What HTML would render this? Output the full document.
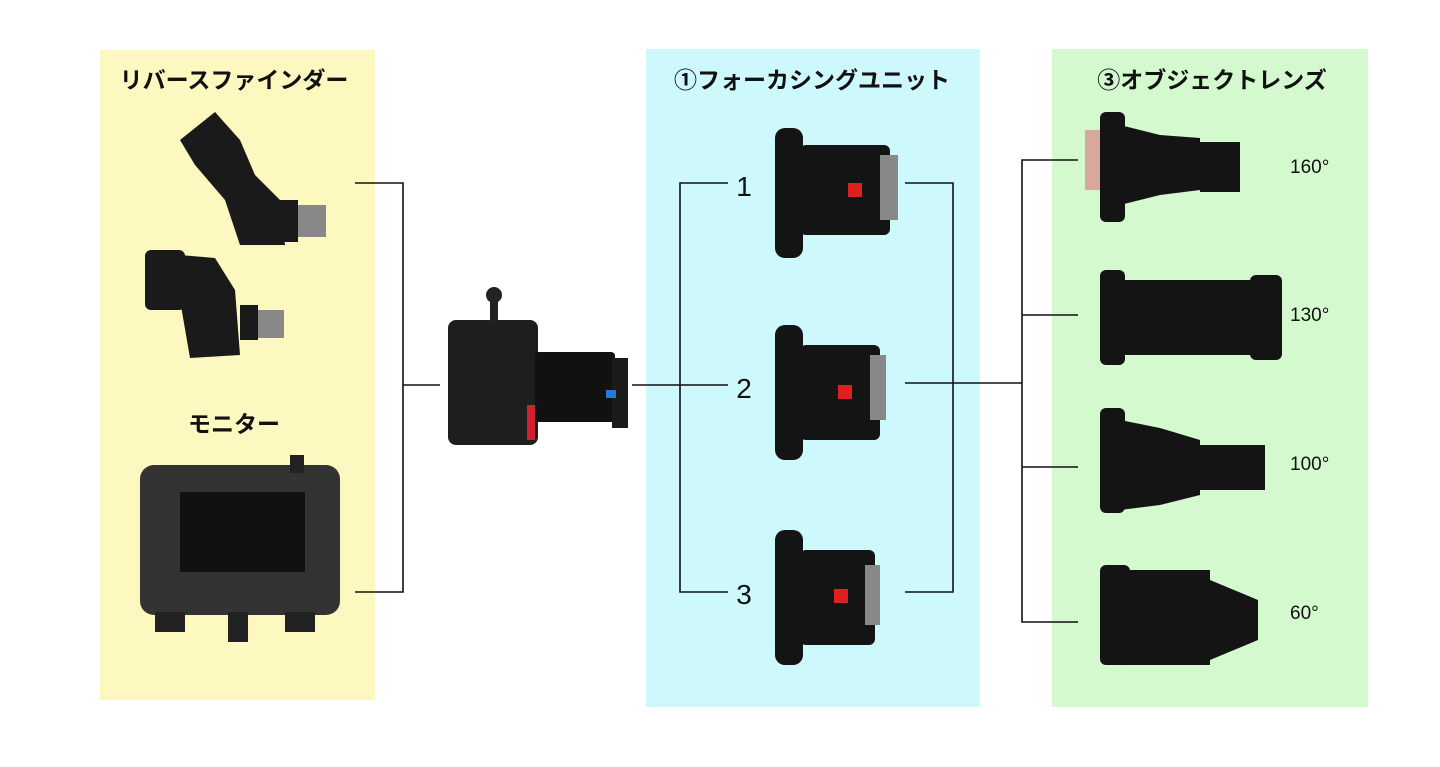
<!DOCTYPE html>
<html><head><meta charset="utf-8"><style>
body{margin:0;background:#fff;width:1440px;height:762px;overflow:hidden;font-family:"Liberation Sans","Noto Sans CJK JP",sans-serif}
</style></head><body>
<svg width="1440" height="762" viewBox="0 0 1440 762" xmlns="http://www.w3.org/2000/svg">
<rect x="100" y="50" width="275" height="650" fill="#fdf8bf"/>
<rect x="646" y="49" width="334" height="658" fill="#cdf8fc"/>
<rect x="1052" y="49" width="316" height="658" fill="#d4f9cf"/>
<g font-family="Noto Sans CJK JP, sans-serif" font-weight="bold" font-size="23" fill="#111">
<text x="234" y="88" text-anchor="middle">リバースファインダー</text>
<text x="234" y="432" text-anchor="middle">モニター</text>
<text x="812" y="88" text-anchor="middle">①フォーカシングユニット</text>
<text x="1212" y="88" text-anchor="middle">③オブジェクトレンズ</text>
</g>
<g font-family="Liberation Sans, sans-serif" font-size="28" fill="#111">
<text x="744" y="196" text-anchor="middle">1</text>
<text x="744" y="398" text-anchor="middle">2</text>
<text x="744" y="604" text-anchor="middle">3</text>
</g>
<g font-family="Liberation Sans, sans-serif" font-size="19" fill="#111">
<text x="1290" y="173">160°</text>
<text x="1290" y="321">130°</text>
<text x="1290" y="470">100°</text>
<text x="1290" y="619">60°</text>
</g>
<g stroke="#111" stroke-width="1.6" fill="none">
<path d="M355 183H403V592H355M403 385H440"/>
<path d="M632 385H728M728 183H680V592H728"/>
<path d="M905 183H953V592H905M905 383H1022M1078 160H1022V622H1078M1022 315H1078M1022 467H1078"/>
</g>
<g fill="#1a1a1a">
<path d="M180 140 L215 112 L240 140 L255 175 L280 200 L285 245 L240 245 L225 200 L195 165Z"/>
<rect x="280" y="200" width="18" height="42"/>
<rect x="298" y="205" width="28" height="32" fill="#888"/>
<rect x="145" y="250" width="40" height="60" rx="6"/>
<path d="M180 255 L215 258 L235 290 L240 355 L190 358 L180 300Z"/>
<rect x="240" y="305" width="18" height="35"/>
<rect x="258" y="310" width="26" height="28" fill="#888"/>
</g>
<g>
<rect x="140" y="465" width="200" height="150" rx="14" fill="#333"/>
<rect x="180" y="492" width="125" height="80" fill="#111"/>
<rect x="155" y="612" width="30" height="20" fill="#222"/>
<rect x="285" y="612" width="30" height="20" fill="#222"/>
<rect x="228" y="612" width="20" height="30" fill="#222"/>
<rect x="290" y="455" width="14" height="18" fill="#222"/>
</g>
<g>
<rect x="448" y="320" width="90" height="125" rx="8" fill="#1e1e1e"/>
<rect x="535" y="352" width="80" height="70" rx="4" fill="#111"/>
<rect x="612" y="358" width="16" height="70" fill="#1a1a1a"/>
<rect x="606" y="390" width="10" height="8" fill="#2a7ad0"/>
<rect x="527" y="405" width="8" height="35" fill="#d02030"/>
<rect x="490" y="295" width="8" height="28" fill="#222"/>
<circle cx="494" cy="295" r="8" fill="#222"/>
</g>
<g fill="#141414">
<rect x="775" y="128" width="28" height="130" rx="10"/><rect x="800" y="145" width="90" height="90" rx="6"/><rect x="880" y="155" width="18" height="65" fill="#888"/><rect x="848" y="183" width="14" height="14" fill="#e02020"/>
<rect x="775" y="325" width="28" height="135" rx="10"/><rect x="800" y="345" width="80" height="95" rx="6"/><rect x="870" y="355" width="16" height="65" fill="#888"/><rect x="838" y="385" width="14" height="14" fill="#e02020"/>
<rect x="775" y="530" width="28" height="135" rx="10"/><rect x="800" y="550" width="75" height="95" rx="6"/><rect x="865" y="565" width="15" height="60" fill="#888"/><rect x="834" y="589" width="14" height="14" fill="#e02020"/>
</g>
<g fill="#141414">
<rect x="1085" y="130" width="30" height="60" fill="#d9a9a0"/>
<rect x="1100" y="112" width="25" height="110" rx="6"/><path d="M1120 125 L1160 135 L1200 138 L1200 190 L1160 195 L1120 205Z"/><rect x="1200" y="142" width="40" height="50"/>
<rect x="1100" y="270" width="25" height="95" rx="6"/><rect x="1120" y="280" width="135" height="75"/><rect x="1250" y="275" width="32" height="85" rx="6"/>
<rect x="1100" y="408" width="25" height="105" rx="6"/><path d="M1120 420 L1160 428 L1200 440 L1200 495 L1160 505 L1120 510Z"/><rect x="1200" y="445" width="65" height="45"/>
<rect x="1100" y="565" width="30" height="100" rx="6"/><rect x="1125" y="570" width="85" height="95"/><path d="M1210 580 L1258 600 L1258 640 L1210 660Z"/>
</g>
</svg>
</body></html>
